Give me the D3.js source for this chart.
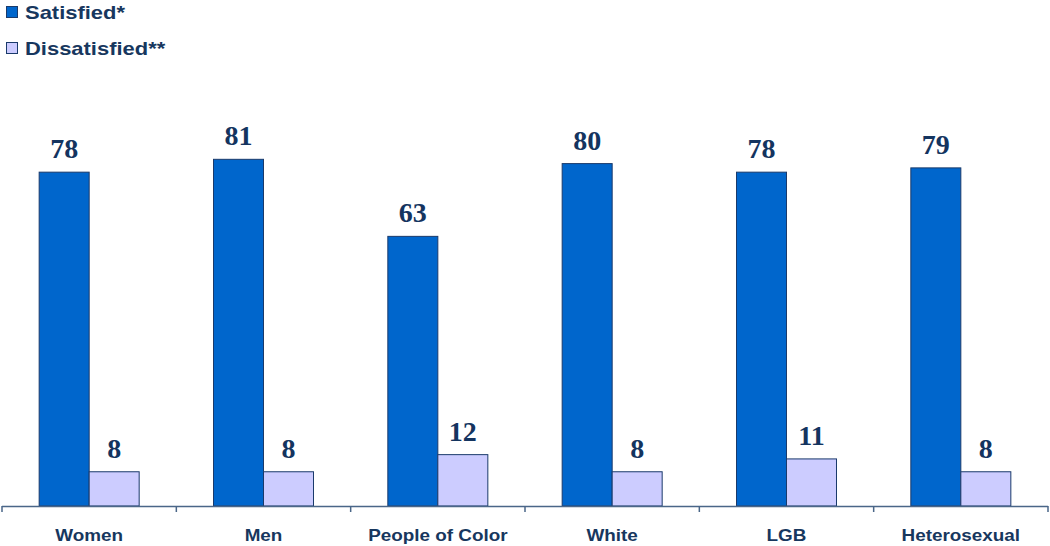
<!DOCTYPE html>
<html><head><meta charset="utf-8">
<script src="https://cdn.jsdelivr.net/npm/d3@7"></script>
<style>body{margin:0;background:#fff}svg{display:block}</style>
</head><body>
<svg id="c" width="1050" height="546"></svg>
<script>
const categories = ["Women","Men","People of Color","White","LGB","Heterosexual"];
const seriesNames = ["Satisfied*","Dissatisfied**"];
const satisfied = [78,81,63,80,78,79];
const dissatisfied = [8,8,12,8,11,8];
const colors = ["#0066CC","#CCCCFF"];

const svg = d3.select("#c");
const x0=2, x1=1048, yTop=78, yBase=506;
const x = d3.scaleBand().domain(categories).range([x0,x1]).paddingInner(0).paddingOuter(0);
const barW = 50;
const sub = d3.scaleBand().domain(seriesNames).range([0,barW*2]);
const y = d3.scaleLinear().domain([0,100]).range([yBase,yTop]);
const navy = "#1a3a6b";
const textCol = "#17375E";

const data = categories.map((c,i)=>({cat:c, vals:[satisfied[i],dissatisfied[i]]}));
const g = svg.append("g");
const groups = g.selectAll("g.grp").data(data).join("g")
  .attr("transform", d=>`translate(${x(d.cat)+(x.bandwidth()-barW*2)/2},0)`);
groups.selectAll("rect").data(d=>d.vals.map((v,j)=>({v,s:seriesNames[j],j}))).join("rect")
  .attr("x", d=>sub(d.s)).attr("width", sub.bandwidth())
  .attr("y", d=>y(d.v)).attr("height", d=>yBase-y(d.v))
  .attr("fill", d=>colors[d.j]).attr("stroke", navy).attr("stroke-width",1);
groups.selectAll("text").data(d=>d.vals.map((v,j)=>({v,s:seriesNames[j],j}))).join("text")
  .attr("x", d=>sub(d.s)+sub.bandwidth()/2).attr("y", d=>y(d.v)-14)
  .attr("text-anchor","middle")
  .attr("font-family","'Liberation Serif','Times New Roman',serif")
  .attr("font-weight","bold").attr("font-size",28).attr("fill","#14345f")
  .text(d=>d.v);

// axis
const axis = d3.axisBottom(x).tickSize(0).tickPadding(0);
const ag = svg.append("g").attr("transform",`translate(0,${yBase})`).call(axis);
ag.select(".domain").remove();
ag.selectAll(".tick text").remove();
ag.append("line").attr("x1",x0).attr("x2",x1).attr("y1",0.5).attr("y2",0.5).attr("stroke","#4a6688").attr("stroke-width",1.5);
const edges = categories.map(c=>x(c)).concat([x1]);
ag.selectAll("line.t").data(edges).join("line").attr("class","t")
  .attr("x1",d=>d).attr("x2",d=>d).attr("y1",0).attr("y2",6)
  .attr("stroke","#4a6688").attr("stroke-width",1.5);
ag.selectAll("text.lbl").data(categories).join("text").attr("class","lbl")
  .attr("transform",d=>`translate(${x(d)+x.bandwidth()/2},35) scale(1.18,1)`)
  .attr("text-anchor","middle")
  .attr("font-family","'Liberation Sans',Arial,sans-serif")
  .attr("font-weight","bold").attr("font-size",16).attr("fill",textCol)
  .text(d=>d);

// legend
const lg = svg.append("g");
seriesNames.forEach((s,i)=>{
  const yy = 6 + i*36;
  lg.append("rect").attr("x",6.5).attr("y",yy+0.5).attr("width",11).attr("height",11)
    .attr("fill",colors[i]).attr("stroke",navy).attr("stroke-width",1);
  lg.append("text").attr("transform",`translate(25,${yy+13}) scale(1.22,1)`)
    .attr("font-family","'Liberation Sans',Arial,sans-serif")
    .attr("font-weight","bold").attr("font-size",18).attr("fill",textCol).text(s);
});
</script>
</body></html>
